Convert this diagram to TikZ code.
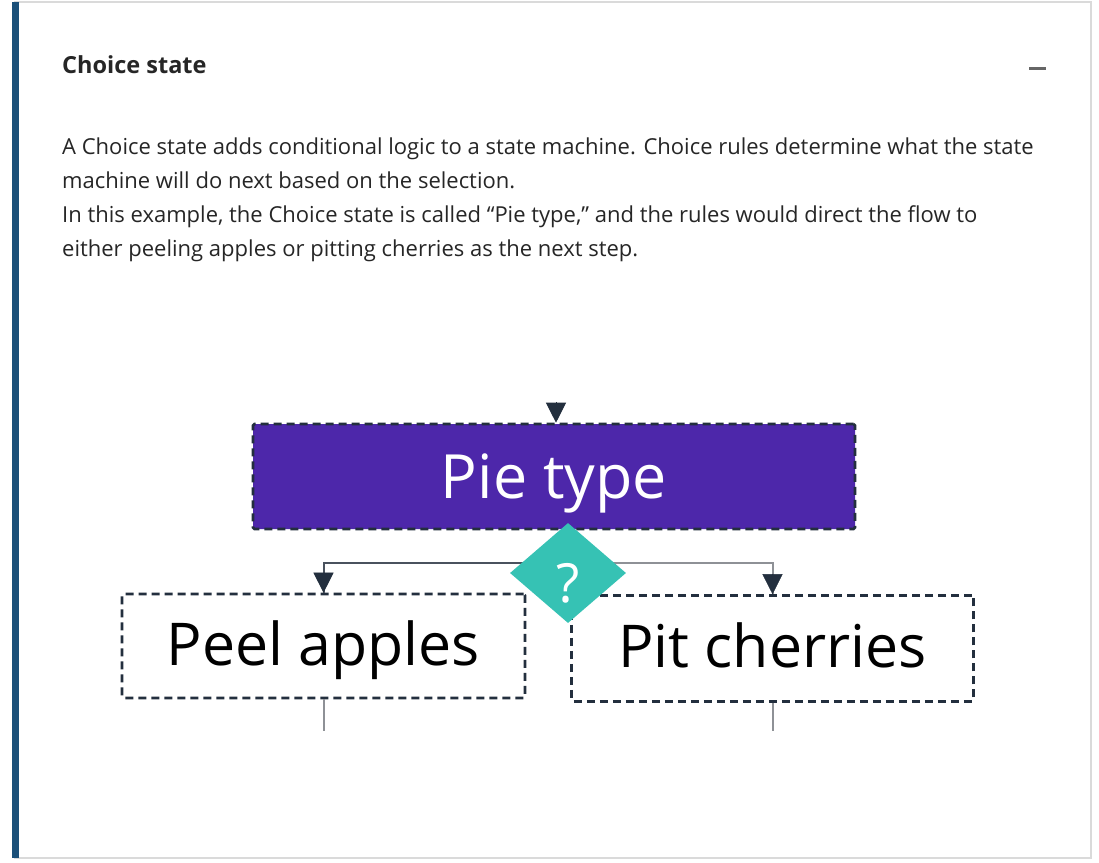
\documentclass[tikz,border=0pt]{standalone}
\usepackage{fontspec}
\setmainfont{Open Sans}
\usepackage{tikz}
\usetikzlibrary{arrows.meta,shapes.geometric}

\definecolor{inkdark}{HTML}{232F3E}
\definecolor{piepurple}{HTML}{4D27AA}
\definecolor{pickteal}{HTML}{36C2B4}
\definecolor{barblue}{HTML}{1B5079}
\definecolor{framegray}{HTML}{DADADA}
\definecolor{linkdark}{HTML}{4A525E}
\definecolor{linklight}{HTML}{8E9196}

\tikzset{
  stepbox/.style={draw=inkdark, line width=2.6pt, dash pattern=on 8pt off 5pt,
    rounded corners=1.5pt, inner sep=0pt, text height=38pt, text depth=0pt,
    font=\fontsize{59}{59}\selectfont},
  link/.style={line width=2pt},
  tip/.style={-{Triangle[width=20pt,length=20pt]}, color=inkdark},
  bodyline/.style={anchor=base west, inner sep=0pt, font=\fontsize{22}{26}\selectfont, text=black!85}
}

\begin{document}
\begin{tikzpicture}[x=1pt, y=-1pt]

\useasboundingbox (0,0) rectangle (1099,862);

% panel
\fill[white] (0,0) rectangle (1099,862);
\draw[framegray, line width=2.5pt] (14,2) -- (1091,2) -- (1091,858) -- (14,858);
\fill[barblue] (12,2) rectangle (18.5,858);

% header
\node[anchor=base west, inner sep=0pt, font=\fontsize{23.5}{24}\selectfont\bfseries, text=black!85]
  (title) at (62,73) {Choice state};
\draw[black!60, line width=3pt] (1029,68) -- (1046,68);

% description
\node[bodyline] (line1) at (62,154) {A Choice state adds conditional logic to a state machine. Choice rules determine what the state};
\node[bodyline] (line2) at (62,188) {machine will do next based on the selection.};
\node[bodyline] (line3) at (62,222) {In this example, the Choice state is called “Pie type,” and the rules would direct the flow to};
\node[bodyline] (line4) at (62,256) {either peeling apples or pitting cherries as the next step.};

% states
\node[stepbox, fill=piepurple, text=white, minimum width=602pt, minimum height=105pt,
  text height=43pt, font=\fontsize{61}{61}\selectfont] (pie) at (554,476.5) {Pie type};
\node[stepbox, minimum width=403pt, minimum height=104pt] (peel) at (323.5,646) {Peel apples};
\node[stepbox, minimum width=402pt, minimum height=106pt] (pit) at (772.5,648.5) {Pit cherries};

% connectors
\coordinate (entry) at (556,402);
\draw[tip, line width=1pt] (entry) -- (entry |- pie.north);

\coordinate (split) at (568,562.5);
\draw[link, linkdark] (split) -| (peel.north);
\draw[link, linklight] (split) -| (pit.north);
\draw[tip] ([yshift=18pt]peel.north) -- (peel.north);
\draw[tip] ([yshift=18pt]pit.north) -- (pit.north);

\coordinate (peelout) at (323.5,731);
\coordinate (pitout) at (772.5,731);
\draw[link, linklight] (peel.south) -- (peelout);
\draw[link, linklight] (pit.south) -- (pitout);

% choice
\node[diamond, fill=pickteal, minimum width=116pt, minimum height=100pt, inner sep=0pt,
  text=white, text height=58pt, text depth=0pt, font=\fontsize{54}{54}\selectfont] (pick) at (568,573) {?};

\end{tikzpicture}
\end{document}
